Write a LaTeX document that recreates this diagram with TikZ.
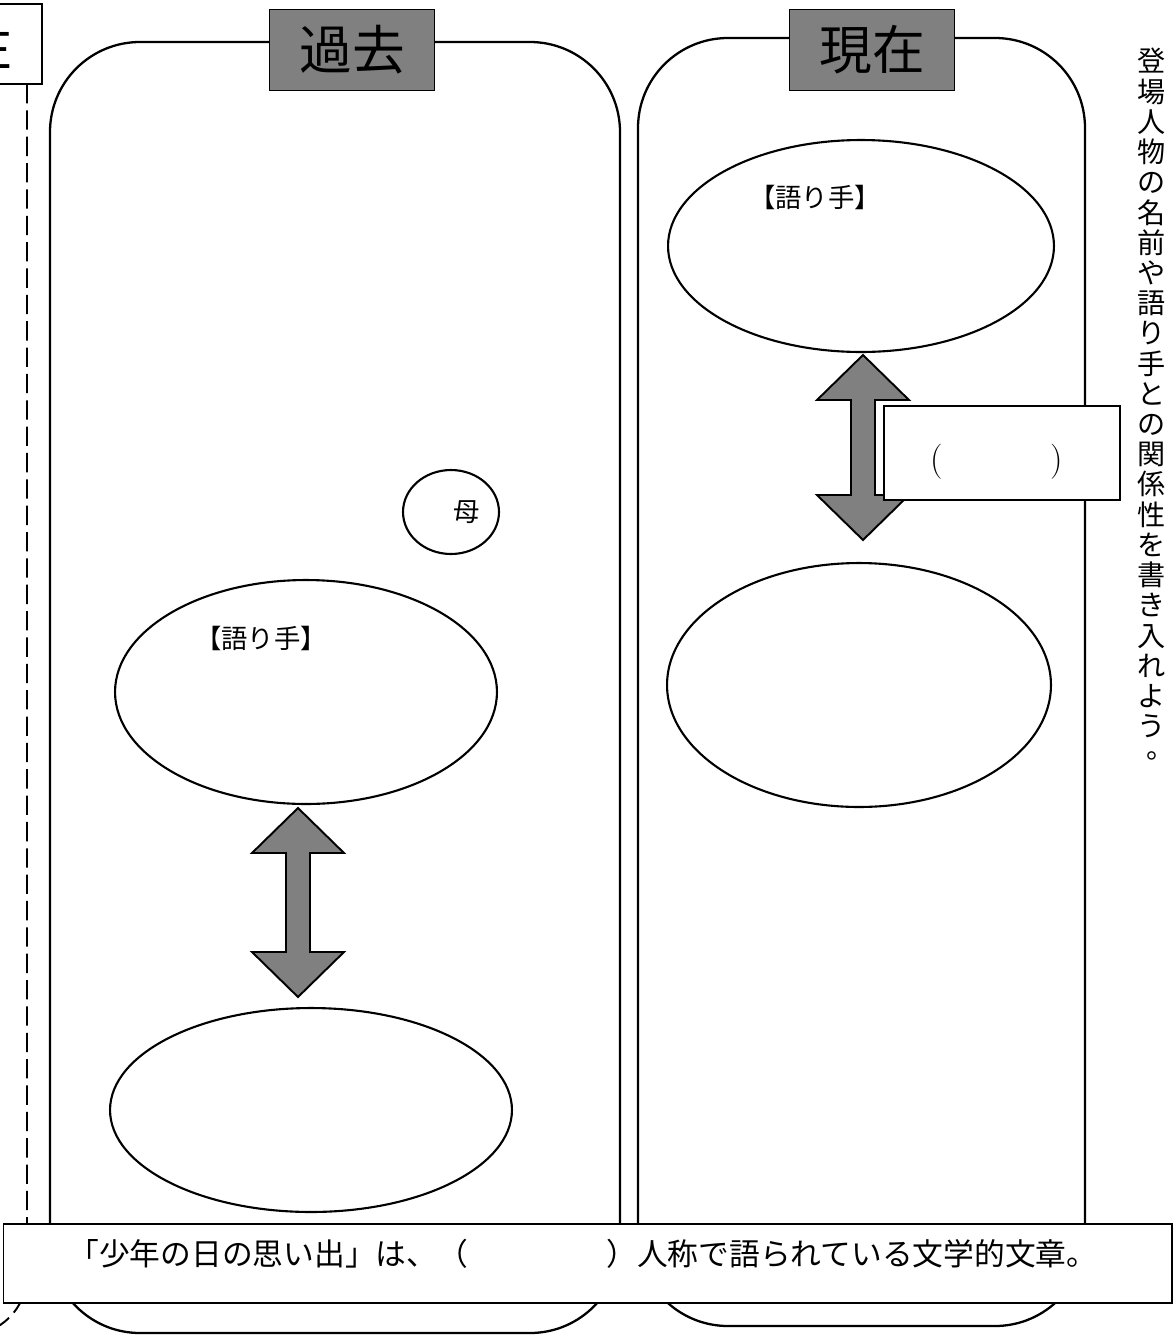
\documentclass[tikz,border=0pt]{standalone}
\usepackage{fontspec}
\newfontfamily\jp{Noto Sans CJK JP}
\usetikzlibrary{shapes.geometric}
\tikzset{
  panel/.style={draw, line width=1.3pt, rounded corners=1.8cm},
  titlebox/.style={draw, fill=gray, line width=.7pt, inner sep=0pt,
    minimum width=3.3cm, minimum height=1.62cm, font=\jp\fontsize{30}{30}\selectfont},
  person/.style={draw, ellipse, line width=1.2pt, inner sep=0pt},
  memo/.style={draw, fill=white, line width=.7pt, inner sep=0pt},
  bigarrow/.style={draw, fill=gray, line width=1.1pt, line join=miter},
  lbl/.style={inner sep=0pt, font=\jp\fontsize{15}{15}\selectfont},
  guideline/.style={line width=1.1pt, dash pattern=on 11pt off 4pt}
}
\begin{document}
\begin{tikzpicture}[x=0.02cm, y=-0.02cm]
\useasboundingbox (0,0) rectangle (1174,1336);
% past / present panels
\draw[panel] (50,42) rectangle (620,1333);
\draw[panel] (638,38) rectangle (1085,1326);
\draw[guideline, rounded corners=1.2cm] (27,84) |- (-60,1335);
\node[titlebox] (kako) at (352,50) {過去};
\node[titlebox] (genzai) at (872,50) {現在};
% present
\node[person, minimum width=7.72cm, minimum height=4.24cm] (imaMe) at (861,246) {};
\node[lbl] (imaMeLbl) at (815,197) {【語り手】};
\node[person, minimum width=7.68cm, minimum height=4.88cm] (imaOther) at (859,685) {};
% past
\node[person, minimum width=1.92cm, minimum height=1.68cm] (haha) at (451,512) {};
\node[lbl] (hahaLbl) at (467,512) {母};
\node[person, minimum width=7.64cm, minimum height=4.48cm] (kakoMe) at (306,692) {};
\node[lbl] (kakoMeLbl) at (261,638) {【語り手】};
\node[person, minimum width=8.04cm, minimum height=4.08cm] (kakoOther) at (311,1110) {};
% double arrows
\foreach \cx/\ta/\tb in {298/808/997, 863/355/540}
  \draw[bigarrow] (\cx,\ta) -- (\cx+46,\ta+45) -- (\cx+12,\ta+45) -- (\cx+12,\tb-45)
    -- (\cx+46,\tb-45) -- (\cx,\tb) -- (\cx-46,\tb-45) -- (\cx-12,\tb-45)
    -- (\cx-12,\ta+45) -- (\cx-46,\ta+45) -- cycle;
\node[memo, minimum width=4.72cm, minimum height=1.88cm] (rel) at (1002,453) {};
\node[inner sep=0pt, font=\fontsize{20}{20}\selectfont] (relTxt) at (997,462) {(\hspace{2.15cm})};
% bottom line and notes
\node[memo, minimum width=23.38cm, minimum height=1.58cm] (summary) at (587.5,1263.5) {};
\node[lbl, anchor=west, font=\jp\fontsize{17.5}{17.5}\selectfont] (summaryTxt) at (68,1254)
  {「少年の日の思い出」は、（\hspace{4.5em}）人称で語られている文学的文章。};
\node[memo, minimum width=2.04cm, minimum height=1.6cm] (lead) at (-9,44) {};
\node[lbl, anchor=east, font=\jp\fontsize{28}{28}\selectfont] (leadTxt) at (13,50) {E};
\node[lbl, anchor=north, align=center, font=\jp\fontsize{16}{17.2}\selectfont] (guide) at (1152,48)
  {登\\場\\人\\物\\の\\名\\前\\や\\語\\り\\手\\と\\の\\関\\係\\性\\を\\書\\き\\入\\れ\\よ\\う\\
   \makebox[1em][l]{\hspace{.3em}\raisebox{.3em}{。}}};
\end{tikzpicture}
\end{document}
